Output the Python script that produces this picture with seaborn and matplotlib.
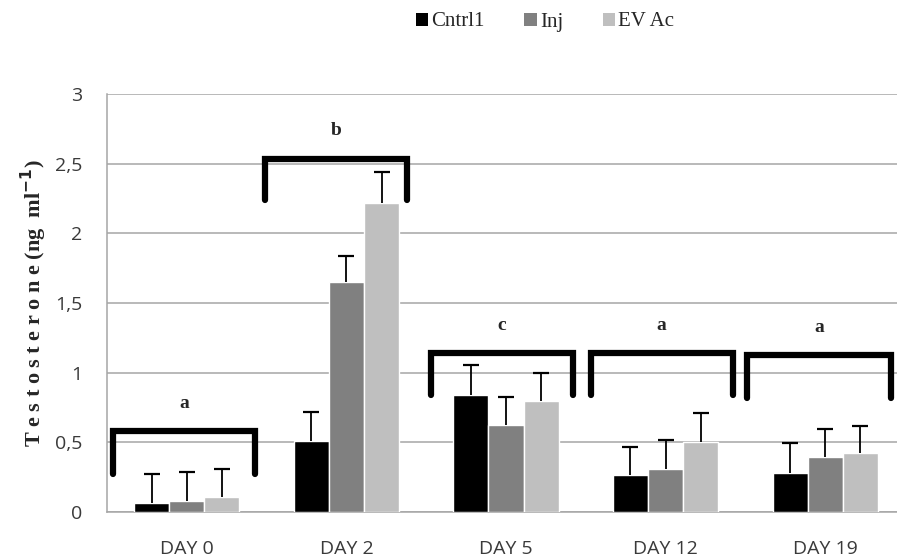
import matplotlib
matplotlib.use("Agg")
import matplotlib.pyplot as plt
import seaborn as sns
import pandas as pd
from matplotlib.patches import Patch

# data
days = ["DAY 0", "DAY 2", "DAY 5", "DAY 12", "DAY 19"]
groups = ["Cntrl1", "Inj", "EV Ac"]
cntrl = [0.065, 0.51, 0.84, 0.265, 0.28]
inj = [0.08, 1.65, 0.625, 0.31, 0.395]
evac = [0.11, 2.22, 0.80, 0.50, 0.42]
cntrl_err = [0.21, 0.21, 0.215, 0.20, 0.215]
inj_err = [0.21, 0.19, 0.20, 0.21, 0.20]
evac_err = [0.20, 0.22, 0.20, 0.21, 0.20]

# significance brackets (top, bottom of legs) and letters
sig_letters = ["a", "b", "c", "a", "a"]
bracket_top = [0.58, 2.535, 1.14, 1.14, 1.125]
bracket_low = [0.27, 2.24, 0.84, 0.84, 0.82]
bracket_left = [-0.46, -0.51, -0.47, -0.47, -0.49]
bracket_right = [0.43, 0.38, 0.42, 0.42, 0.41]

PALETTE = ["#000000", "#808080", "#bfbfbf"]
GRID = "#a6a6a6"
TXT = "#3a3a3a"

rows = []
for vals, errs, g in [(cntrl, cntrl_err, "Cntrl1"), (inj, inj_err, "Inj"), (evac, evac_err, "EV Ac")]:
    for d, v, e in zip(days, vals, errs):
        rows.append({"day": d, "group": g, "value": v, "err": e})
df = pd.DataFrame(rows)

sns.set_style("white")
fig = plt.figure(figsize=(8.97, 5.59), dpi=100)
ax = fig.add_axes([107 / 897, 47 / 559, 798 / 897, 418 / 559])

sns.barplot(data=df, x="day", y="value", hue="group", order=days, hue_order=groups,
            palette=PALETTE, width=0.66, gap=0, errorbar=None, saturation=1,
            legend=False, ax=ax, zorder=3)

# upward-only error bars placed on the drawn bars
for patch, (_, r) in zip(ax.patches, df.iterrows()):
    xc = patch.get_x() + patch.get_width() / 2
    eb = ax.errorbar(xc, patch.get_height(), yerr=[[0], [r["err"]]], fmt="none",
                     ecolor="black", elinewidth=1.3, capsize=6, capthick=1.6, zorder=4)
    caps = eb[1]
    if len(caps) > 1:
        caps[0].set_visible(False)

# brackets and letters
for i in range(len(days)):
    xl, xr = i + bracket_left[i], i + bracket_right[i]
    ax.plot([xl, xl, xr, xr], [bracket_low[i], bracket_top[i], bracket_top[i], bracket_low[i]],
            color="black", lw=4.5, solid_joinstyle="miter", zorder=5, clip_on=False)
    ax.text((xl + xr) / 2, bracket_top[i] + 0.2, sig_letters[i], ha="center", va="center",
            fontsize=14, fontweight="bold", family="Liberation Serif", zorder=6)

ax.set_ylim(0, 3)
ax.set_xlim(-0.5, 4.5)
ax.set_yticks([0, 0.5, 1, 1.5, 2, 2.5, 3])
ax.set_yticklabels(["0", "0,5", "1", "1,5", "2", "2,5", "3"])
ax.yaxis.grid(True, color=GRID, lw=1.1, zorder=0)
ax.set_axisbelow(True)
for s in ["top", "right"]:
    ax.spines[s].set_visible(False)
for s in ["left", "bottom"]:
    ax.spines[s].set_color(GRID)
    ax.spines[s].set_linewidth(1.1)

ax.set_xticks([i + 0.5 for i in range(-1, 5)], minor=True)
ax.tick_params(axis="x", which="minor", length=7, color=GRID, width=1.1, direction="out")
ax.tick_params(axis="x", which="major", length=0, pad=20, labelsize=14, labelcolor=TXT)
ax.tick_params(axis="y", length=7, color=GRID, width=1.1, direction="out", labelsize=14,
               labelcolor=TXT, pad=11)
for lab in ax.get_xticklabels() + ax.get_yticklabels():
    lab.set_family("Open Sans")

ax.set_xlabel("")
ax.set_ylabel("T e s t o s t e r o n e (ng  ml$^{\\mathbf{-1}}$)", fontsize=16, fontweight="bold",
              family="Liberation Serif", labelpad=4)

handles = [Patch(facecolor=c, edgecolor="none") for c in PALETTE]
fig.legend(handles, groups, loc="center", bbox_to_anchor=(545 / 897, 1 - 22 / 559), ncol=3,
           frameon=False, handlelength=0.6, handleheight=0.6, handletextpad=0.15,
           columnspacing=1.9, prop={"family": "Liberation Serif", "size": 15})

fig.savefig("out.png", dpi=100)
